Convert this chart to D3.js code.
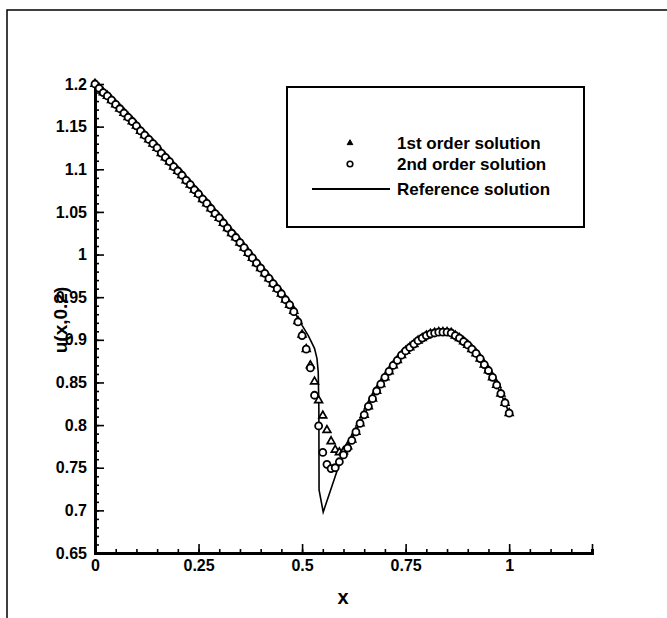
<!DOCTYPE html>
<meta charset="utf-8">
<script src="https://d3js.org/d3.v7.min.js"></script>
<style>
  body { margin: 0; background: #fff; }
  text { font-family: "Liberation Sans", Arial, sans-serif; font-weight: bold; fill: #000; }
</style>
<div id="chart"></div>
<script>

// grid nodes
var xNodes = [0,0.01,0.02,0.03,0.04,0.05,0.06,0.07,0.08,0.09,
  0.10,0.11,0.12,0.13,0.14,0.15,0.16,0.17,0.18,0.19,
  0.20,0.21,0.22,0.23,0.24,0.25,0.26,0.27,0.28,0.29,
  0.30,0.31,0.32,0.33,0.34,0.35,0.36,0.37,0.38,0.39,
  0.40,0.41,0.42,0.43,0.44,0.45,0.46,0.47,0.48,0.49,
  0.50,0.51,0.52,0.53,0.54,0.55,0.56,0.57,0.58,0.59,
  0.60,0.61,0.62,0.63,0.64,0.65,0.66,0.67,0.68,0.69,
  0.70,0.71,0.72,0.73,0.74,0.75,0.76,0.77,0.78,0.79,
  0.80,0.81,0.82,0.83,0.84,0.85,0.86,0.87,0.88,0.89,
  0.90,0.91,0.92,0.93,0.94,0.95,0.96,0.97,0.98,0.99,1.00];

// 1st order solution
var firstOrder = [1.200,1.195,1.190,1.186,1.181,1.176,1.171,1.166,1.161,1.156,
  1.151,1.145,1.140,1.135,1.130,1.125,1.119,1.114,1.109,1.103,
  1.098,1.093,1.087,1.082,1.076,1.071,1.065,1.060,1.054,1.048,
  1.043,1.037,1.031,1.025,1.020,1.014,1.008,1.002,0.996,0.990,
  0.984,0.978,0.972,0.966,0.960,0.954,0.947,0.941,0.934,0.922,
  0.906,0.889,0.870,0.851,0.829,0.811,0.794,0.781,0.771,0.768,
  0.769,0.775,0.783,0.792,0.802,0.812,0.822,0.831,0.840,0.848,
  0.856,0.863,0.870,0.876,0.882,0.887,0.891,0.895,0.899,0.902,
  0.905,0.907,0.908,0.909,0.909,0.909,0.908,0.905,0.902,0.898,
  0.894,0.889,0.884,0.878,0.871,0.864,0.856,0.847,0.837,0.826,0.814];

// 2nd order solution
var secondOrder = [1.200,1.195,1.190,1.186,1.181,1.176,1.171,1.166,1.161,1.156,
  1.151,1.145,1.140,1.135,1.130,1.125,1.119,1.114,1.109,1.103,
  1.098,1.093,1.087,1.082,1.076,1.071,1.065,1.060,1.054,1.048,
  1.043,1.037,1.031,1.025,1.020,1.014,1.008,1.002,0.996,0.990,
  0.984,0.978,0.972,0.966,0.960,0.954,0.947,0.941,0.933,0.921,
  0.905,0.889,0.867,0.835,0.799,0.768,0.754,0.749,0.750,0.757,
  0.765,0.773,0.782,0.792,0.802,0.812,0.822,0.831,0.840,0.848,
  0.856,0.863,0.870,0.876,0.882,0.887,0.891,0.895,0.899,0.902,
  0.905,0.907,0.908,0.909,0.909,0.909,0.908,0.905,0.902,0.898,
  0.894,0.889,0.884,0.878,0.871,0.864,0.856,0.847,0.837,0.826,0.814];

// reference solution
var refX = [0,0.05,0.1,0.15,0.2,0.25,0.3,0.35,0.4,0.45,0.48,0.5,0.515,0.53,0.536,0.539,0.5405,0.541,
  0.551,0.587,0.61,0.63,0.65,0.67,0.69,0.71,0.73,0.75,0.77,0.79,0.81,0.83,0.85,0.87,0.89,0.91,0.93,0.95,0.97,0.99,1.0];
var refY = [1.2,1.1756,1.1505,1.1246,1.098,1.0706,1.0425,1.0136,0.984,0.9536,0.934,0.917,0.905,0.890,0.878,0.862,0.82,0.724,
  0.698,0.750,0.773,0.793,0.812,0.831,0.848,0.863,0.876,0.887,0.895,0.902,0.907,0.909,0.909,0.905,0.898,0.889,0.878,0.864,0.847,0.826,0.814];

var xTicks = [0, 0.25, 0.5, 0.75, 1];
var yTicks = [0.65,0.7,0.75,0.8,0.85,0.9,0.95,1,1.05,1.1,1.15,1.2];
var legendLabels = ["1st order solution", "2nd order solution", "Reference solution"];

var W = 667, H = 618;
var svg = d3.select("#chart").append("svg")
  .attr("width", W).attr("height", H);

// outer frame (left and top)
svg.append("path")
  .attr("d", "M7,618 V10 H667")
  .attr("fill", "none").attr("stroke", "#000").attr("stroke-width", 1.5);

var x = d3.scaleLinear().domain([0, 1.2]).range([95, 592]);
var y = d3.scaleLinear().domain([0.65, 1.2]).range([553, 84]);

// minor ticks
svg.append("g")
  .attr("transform", "translate(0,553)")
  .call(d3.axisBottom(x).tickValues(d3.range(0, 1.2001, 0.05)).tickSize(-4).tickFormat(""));
svg.append("g")
  .attr("transform", "translate(95,0)")
  .call(d3.axisLeft(y).tickValues(d3.range(0.65, 1.2001, 0.01)).tickSize(-4).tickFormat(""));

// major ticks
var xAxis = svg.append("g")
  .attr("transform", "translate(0,553)")
  .call(d3.axisBottom(x).tickValues(xTicks.concat([1.2])).tickSize(-9).tickSizeOuter(0).tickPadding(6)
    .tickFormat(function(d) { return d > 1 ? "" : d3.format("")(d); }));
var yAxis = svg.append("g")
  .attr("transform", "translate(95,0)")
  .call(d3.axisLeft(y).tickValues(yTicks).tickSize(-9).tickSizeOuter(0).tickPadding(8)
    .tickFormat(function(d) { return d3.format("")(+d.toFixed(2)); }));

svg.selectAll(".domain").attr("stroke-width", 3);
svg.selectAll(".tick line").attr("stroke-width", 1.6);
svg.selectAll(".tick text").style("font-size", "16px").style("font-family", "'Liberation Sans', Arial").style("font-weight", "bold");
xAxis.selectAll(".tick text").attr("dy", "0.75em");

// axis titles
svg.append("text")
  .attr("x", 343).attr("y", 604)
  .attr("text-anchor", "middle")
  .style("font-size", "20px")
  .text("x");
svg.append("text")
  .attr("transform", "translate(67,320) rotate(-90)")
  .attr("text-anchor", "middle")
  .style("font-size", "19px")
  .text("u(x,0.2)");

var pts1 = xNodes.map(function(d, i) { return [d, firstOrder[i]]; });
var pts2 = xNodes.map(function(d, i) { return [d, secondOrder[i]]; });
var ref = refX.map(function(d, i) { return [d, refY[i]]; });

var tri = d3.symbol().type(d3.symbolTriangle).size(26);

// reference line
svg.append("path")
  .datum(ref)
  .attr("d", d3.line().x(function(d) { return x(d[0]); }).y(function(d) { return y(d[1]); }))
  .attr("fill", "none").attr("stroke", "#000").attr("stroke-width", 1.6);

svg.selectAll(".tri")
  .data(pts1)
  .enter().append("path")
  .attr("class", "tri")
  .attr("d", tri)
  .attr("transform", function(d) { return "translate(" + x(d[0]) + "," + y(d[1]) + ")"; })
  .attr("fill", "#fff").attr("stroke", "#000").attr("stroke-width", 1.7);

svg.selectAll(".circ")
  .data(pts2)
  .enter().append("circle")
  .attr("class", "circ")
  .attr("cx", function(d) { return x(d[0]); })
  .attr("cy", function(d) { return y(d[1]); })
  .attr("r", 3.5)
  .attr("fill", "#fff").attr("stroke", "#000").attr("stroke-width", 1.8);

// legend
var lg = svg.append("g");
lg.append("rect")
  .attr("x", 287).attr("y", 87).attr("width", 297).attr("height", 140)
  .attr("fill", "#fff").attr("stroke", "#000").attr("stroke-width", 2);
var rowY = [143, 164, 189];
lg.append("path")
  .attr("d", d3.symbol().type(d3.symbolTriangle).size(14))
  .attr("transform", "translate(350," + rowY[0] + ")")
  .attr("fill", "#000").attr("stroke", "#000").attr("stroke-width", 1);
lg.append("circle")
  .attr("cx", 350).attr("cy", rowY[1]).attr("r", 2.8)
  .attr("fill", "#fff").attr("stroke", "#000").attr("stroke-width", 1.6);
lg.append("line")
  .attr("x1", 312).attr("x2", 390).attr("y1", rowY[2]).attr("y2", rowY[2])
  .attr("stroke", "#000").attr("stroke-width", 1.8);
lg.selectAll(".lt")
  .data(legendLabels)
  .enter().append("text")
  .attr("class", "lt")
  .attr("x", 397)
  .attr("y", function(d, i) { return rowY[i]; })
  .attr("dy", "0.35em")
  .style("font-size", "17px")
  .text(function(d) { return d; });

</script>
